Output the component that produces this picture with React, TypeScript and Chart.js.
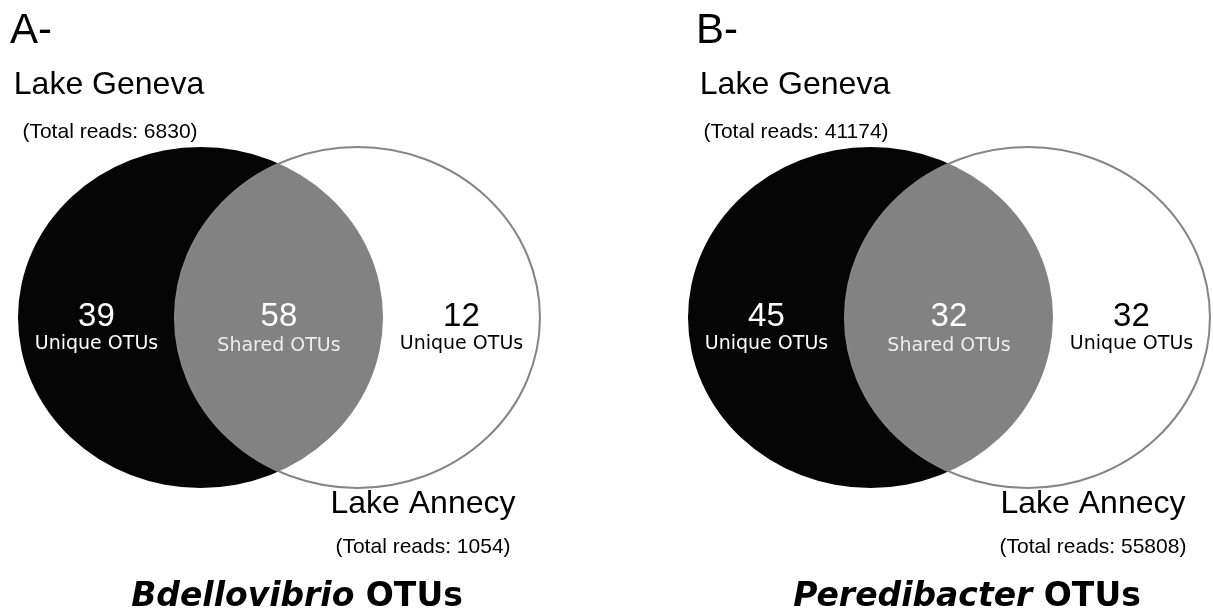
import React, { useEffect, useRef } from "react";
import { Chart, registerables } from "chart.js";

Chart.register(...registerables);

// ---- data ----
const panelLetters = ["A-", "B-"];
const genera = ["Bdellovibrio", "Peredibacter"];
const setNames = ["Lake Geneva", "Lake Annecy"];
const uniqueGeneva = [39, 45];
const sharedOTUs = [58, 32];
const uniqueAnnecy = [12, 32];
const readsGeneva = [6830, 41174];
const readsAnnecy = [1054, 55808];

// Venn geometry in data units (radius = 1)
const circleRadius = 1;
const circleCentersX = [0, 0.86];
const circleCentersY = [0, 0];

// header text shift per panel (pixels)
const headerShift = [0, 16];

const SANS = "'Liberation Sans', Arial, sans-serif";
const VERD = "'DejaVu Sans', Verdana, sans-serif";

const vennPlugin = {
  id: "venn",
  beforeDatasetsDraw(chart: any) {
    const { ctx } = chart;
    const xs = chart.scales.x;
    const ys = chart.scales.y;
    const rx = xs.getPixelForValue(circleRadius) - xs.getPixelForValue(0);
    const ry = ys.getPixelForValue(0) - ys.getPixelForValue(circleRadius);
    const pts = chart.data.datasets[0].data;
    const c0x = xs.getPixelForValue(pts[0].x);
    const c0y = ys.getPixelForValue(pts[0].y);
    const c1x = xs.getPixelForValue(pts[1].x);
    const c1y = ys.getPixelForValue(pts[1].y);
    ctx.save();
    ctx.beginPath();
    ctx.ellipse(c0x, c0y, rx, ry, 0, 0, Math.PI * 2);
    ctx.fillStyle = "#050505";
    ctx.fill();
    ctx.beginPath();
    ctx.ellipse(c1x, c1y, rx, ry, 0, 0, Math.PI * 2);
    ctx.fillStyle = "rgba(255,255,255,0.5)";
    ctx.fill();
    ctx.lineWidth = 2;
    ctx.strokeStyle = "#858585";
    ctx.stroke();
    ctx.restore();
  },
  afterDatasetsDraw(chart: any, _args: any, opts: any) {
    const i = opts.panel;
    const { ctx } = chart;
    const xs = chart.scales.x;
    const ys = chart.scales.y;
    const pts = chart.data.datasets[0].data;
    const cy = ys.getPixelForValue(pts[0].y);
    const leftX = xs.getPixelForValue((pts[0].x - circleRadius + pts[1].x - circleRadius) / 2);
    const midX = xs.getPixelForValue((pts[1].x - circleRadius + pts[0].x + circleRadius) / 2);
    const rightX = xs.getPixelForValue((pts[0].x + circleRadius + pts[1].x + circleRadius) / 2);
    const hs = headerShift[i];
    ctx.save();
    ctx.textBaseline = "alphabetic";
    // panel letter
    ctx.textAlign = "left";
    ctx.fillStyle = "#000";
    ctx.font = `42px ${SANS}`;
    ctx.fillText(panelLetters[i], 10 + hs, 43);
    // Lake Geneva
    ctx.textAlign = "center";
    ctx.font = `32px ${SANS}`;
    ctx.fillText(setNames[0], 109 + hs, 94);
    ctx.font = `21px ${SANS}`;
    ctx.fillText(`(Total reads: ${readsGeneva[i]})`, 110 + hs, 138);
    // Lake Annecy
    ctx.font = `32px ${SANS}`;
    ctx.fillText(setNames[1], 423, 513);
    ctx.font = `21px ${SANS}`;
    ctx.fillText(`(Total reads: ${readsAnnecy[i]})`, 423, 553);
    // region numbers
    const numY = cy + 8;
    const labY = cy + 31;
    ctx.font = `33px ${SANS}`;
    ctx.fillStyle = "#ffffff";
    ctx.fillText(String(uniqueGeneva[i]), leftX, numY);
    ctx.fillText(String(sharedOTUs[i]), midX, numY);
    ctx.fillStyle = "#000000";
    ctx.fillText(String(uniqueAnnecy[i]), rightX, numY);
    ctx.font = `19px ${VERD}`;
    ctx.fillStyle = "#ffffff";
    ctx.fillText("Unique OTUs", leftX, labY);
    ctx.fillStyle = "#ececec";
    ctx.fillText("Shared OTUs", midX, labY + 2);
    ctx.fillStyle = "#000000";
    ctx.fillText("Unique OTUs", rightX, labY);
    // title
    const fItal = `italic bold 33px ${VERD}`;
    const fBold = `bold 33px ${VERD}`;
    ctx.font = fItal;
    const w1 = ctx.measureText(genera[i]).width;
    ctx.font = fBold;
    const w2 = ctx.measureText(" OTUs").width;
    const start = 297 - (w1 + w2) / 2;
    ctx.textAlign = "left";
    ctx.font = fItal;
    ctx.fillText(genera[i], start, 606);
    ctx.font = fBold;
    ctx.fillText(" OTUs", start + w1, 606);
    ctx.restore();
  },
};

const PANEL_W = 545;
const PANEL_H = 614;
const PX_PER_X = 182.5;
const PX_PER_Y = 170.5;
const CENTER_PX_X = 200.5;
const CENTER_PX_Y = 317.5;

function VennPanel({ panel, left }: { panel: number; left: number }) {
  const ref = useRef<HTMLCanvasElement | null>(null);
  useEffect(() => {
    if (!ref.current) return;
    const chart = new Chart(ref.current, {
      type: "scatter",
      data: {
        datasets: [
          {
            data: circleCentersX.map((x, k) => ({ x, y: circleCentersY[k] })),
            pointRadius: 0,
            showLine: false,
          },
        ],
      },
      options: {
        responsive: false,
        animation: false,
        events: [],
        layout: { padding: 0 },
        scales: {
          x: {
            type: "linear",
            display: false,
            min: -CENTER_PX_X / PX_PER_X,
            max: (PANEL_W - CENTER_PX_X) / PX_PER_X,
          },
          y: {
            type: "linear",
            display: false,
            min: -(PANEL_H - CENTER_PX_Y) / PX_PER_Y,
            max: CENTER_PX_Y / PX_PER_Y,
          },
        },
        plugins: {
          legend: { display: false },
          tooltip: { enabled: false },
          venn: { panel },
        } as any,
      },
      plugins: [vennPlugin as any],
    });
    return () => chart.destroy();
  }, [panel]);
  return (
    <canvas
      ref={ref}
      width={PANEL_W}
      height={PANEL_H}
      style={{ position: "absolute", left, top: 0, width: PANEL_W, height: PANEL_H }}
    />
  );
}

export default function App() {
  return (
    <div
      style={{
        position: "fixed",
        left: 0,
        top: 0,
        width: 1213,
        height: 614,
        background: "#ffffff",
        overflow: "hidden",
      }}
    >
      <VennPanel panel={0} left={0} />
      <VennPanel panel={1} left={670} />
    </div>
  );
}
